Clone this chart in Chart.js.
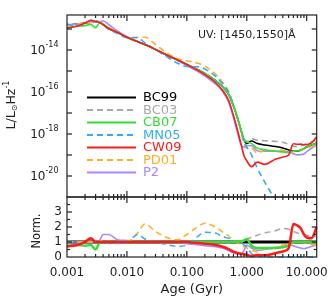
<!DOCTYPE html>
<html lang="en">
<head>
<meta charset="UTF-8" />
<title>UV [1450,1550] luminosity vs age</title>
<script src="https://cdn.jsdelivr.net/npm/chart.js"></script>
<style>
  body { margin: 0; background: #fff; }
  #wrap { position: relative; width: 333px; height: 303px; }
</style>
</head>
<body>
<div id="wrap"><canvas id="chart"></canvas></div>
<script>
// ages in Gyr, shared by every model
const ages = [0.001, 0.0015, 0.002, 0.0025, 0.003, 0.0035, 0.004, 0.005, 0.007, 0.01,
  0.015, 0.02, 0.03, 0.05, 0.07, 0.1, 0.15, 0.2, 0.3, 0.4,
  0.5, 0.6, 0.7, 0.8, 0.9, 1.0, 1.2, 1.5, 2, 3,
  4, 5, 6, 7, 8, 9, 10, 12, 14.7];

// L / Lsun Hz^-1
const lumBC99 = [1.55e-13, 1.73e-13, 1.93e-13, 2.08e-13, 2.28e-13, 2.04e-13, 1.64e-13, 1.06e-13, 6.81e-14, 4.03e-14,
  2.54e-14, 1.83e-14, 1.06e-14, 5.18e-15, 3.34e-15, 2.04e-15, 1.18e-15, 7.60e-16, 3.53e-16, 1.73e-16,
  7.60e-17, 2.15e-17, 5.78e-18, 1.55e-18, 5.18e-19, 3.53e-19, 4.64e-19, 3.53e-19, 2.99e-19, 2.54e-19,
  2.15e-19, 1.73e-19, 1.55e-19, 1.55e-19, 1.73e-19, 2.04e-19, 2.40e-19, 2.99e-19, 3.72e-19];
const lumBC03 = [1.55e-13, 1.73e-13, 1.93e-13, 2.08e-13, 2.28e-13, 2.04e-13, 1.64e-13, 1.06e-13, 6.81e-14, 4.03e-14,
  2.54e-14, 1.83e-14, 1.06e-14, 5.18e-15, 3.34e-15, 2.04e-15, 1.18e-15, 7.60e-16, 3.53e-16, 1.73e-16,
  7.60e-17, 2.15e-17, 5.78e-18, 1.55e-18, 5.18e-19, 4.24e-19, 6.03e-19, 5.12e-19, 4.78e-19, 4.45e-19,
  4.09e-19, 3.20e-19, 2.64e-19, 2.48e-19, 2.68e-19, 3.06e-19, 3.48e-19, 4.19e-19, 5.02e-19];
const lumCB07 = [1.16e-13, 1.38e-13, 1.45e-13, 1.66e-13, 1.14e-13, 1.94e-13, 1.64e-13, 1.06e-13, 6.81e-14, 4.03e-14,
  2.54e-14, 1.83e-14, 1.06e-14, 5.18e-15, 3.34e-15, 2.04e-15, 1.18e-15, 7.60e-16, 3.53e-16, 1.73e-16,
  7.60e-17, 2.15e-17, 6.07e-18, 1.63e-18, 5.70e-19, 4.24e-19, 3.48e-19, 2.12e-19, 1.79e-19, 1.52e-19,
  1.40e-19, 1.30e-19, 1.55e-19, 1.55e-19, 1.73e-19, 2.04e-19, 2.40e-19, 2.99e-19, 3.72e-19];
const lumMN05 = [1.71e-13, 1.47e-13, 1.93e-13, 2.50e-13, 2.51e-13, 2.04e-13, 1.56e-13, 9.54e-14, 6.13e-14, 3.83e-14,
  3.81e-14, 2.20e-14, 1.06e-14, 4.14e-15, 2.34e-15, 1.63e-15, 1.59e-15, 1.25e-15, 5.65e-16, 2.34e-16,
  9.50e-17, 2.37e-17, 6.07e-18, 1.55e-18, 4.14e-19, 2.40e-19, 1.00e-19, 2.40e-20, 5.10e-21, 7.20e-22,
  null, null, null, null, null, null, null, null, null];
const lumCW09 = [1.09e-13, 1.38e-13, 1.93e-13, 2.60e-13, 2.28e-13, 2.04e-13, 1.64e-13, 1.06e-13, 6.81e-14, 4.03e-14,
  2.54e-14, 1.83e-14, 1.06e-14, 5.18e-15, 3.34e-15, 2.04e-15, 1.10e-15, 6.69e-16, 2.82e-16, 1.18e-16,
  3.95e-17, 7.53e-18, 1.56e-18, 3.41e-19, 9.32e-20, 5.30e-20, 2.78e-20, 4.59e-20, 3.59e-20, 6.35e-20,
  7.96e-20, 1.00e-19, 3.41e-19, 3.26e-19, 3.29e-19, 3.06e-19, 3.12e-19, 3.74e-19, 7.44e-19];
const lumPD01 = [1.55e-13, 1.73e-13, 1.93e-13, 2.08e-13, 2.28e-13, 2.14e-13, 1.80e-13, 1.11e-13, 6.81e-14, 4.03e-14,
  4.06e-14, 4.03e-14, 1.80e-14, 6.48e-15, 3.84e-15, 3.06e-15, 2.36e-15, 1.71e-15, 7.06e-16, 2.85e-16,
  1.06e-16, 2.37e-17, 5.49e-18, 1.24e-18, 3.63e-19, 2.12e-19, 2.09e-19, 1.24e-19, 1.64e-19, 1.65e-19,
  1.72e-19, 1.47e-19, 1.47e-19, 1.55e-19, 1.73e-19, 1.94e-19, 2.16e-19, 2.54e-19, 2.98e-19];
const lumP2 = [1.55e-13, 1.73e-13, 1.93e-13, 2.08e-13, 2.28e-13, 2.24e-13, 2.46e-13, 1.59e-13, 7.83e-14, 4.43e-14,
  2.54e-14, 1.83e-14, 1.06e-14, 5.18e-15, 3.17e-15, 1.80e-15, 9.68e-16, 5.70e-16, 2.40e-16, 1.00e-16,
  3.19e-17, 6.02e-18, 1.16e-18, 3.10e-19, 2.33e-19, 2.82e-19, 2.78e-19, 1.59e-19, 1.50e-19, 1.52e-19,
  1.51e-19, 1.38e-19, 1.16e-19, 1.01e-19, 1.04e-19, 1.12e-19, 1.44e-19, 2.09e-19, 2.98e-19];

// normalised to BC99
const normBC99 = [1, 1, 1, 1, 1, 1, 1, 1, 1, 1, 1, 1, 1, 1, 1, 1, 1, 1, 1, 1,
  1, 1, 1, 1, 1, 1, 1, 1, 1, 1, 1, 1, 1, 1, 1, 1, 1, 1, 1];
const normBC03 = [1, 1, 1, 1, 1, 1, 1, 1, 1, 1, 1, 1, 1, 1, 1, 1, 1, 1, 1, 1,
  1, 1, 1, 1, 1, 1.2, 1.3, 1.45, 1.6, 1.75, 1.9, 1.85, 1.7, 1.6, 1.55, 1.5, 1.45, 1.4, 1.35];
const normCB07 = [0.75, 0.8, 0.75, 0.8, 0.5, 0.95, 1, 1, 1, 1, 1, 1, 1, 1, 1, 1, 1, 1, 1, 1,
  1, 1, 1.05, 1.05, 1.1, 1.2, 0.75, 0.6, 0.6, 0.6, 0.65, 0.75, 1, 1, 1, 1, 1, 1, 1];
const normMN05 = [1.1, 0.85, 1.0, 1.2, 1.1, 1.0, 0.95, 0.9, 0.9, 0.95, 1.5, 1.2, 1.0, 0.8, 0.7, 0.8, 1.35, 1.65, 1.6, 1.35,
  1.25, 1.1, 1.05, 1.0, 0.8, 0.68, 0.22, 0.07, 0.02, 0, 0, 0, 0, 0, 0, 0, 0, 0, 0];
const normCW09 = [0.7, 0.8, 1.0, 1.25, 1.0, 1, 1, 1, 1, 1, 1, 1, 1, 1, 1, 1, 0.93, 0.88, 0.8, 0.68,
  0.52, 0.35, 0.27, 0.22, 0.18, 0.15, 0.06, 0.13, 0.12, 0.25, 0.37, 0.58, 2.2, 2.1, 1.9, 1.5, 1.3, 1.25, 2.0];
const normPD01 = [1, 1, 1, 1, 1, 1.05, 1.1, 1.05, 1, 1, 1.6, 2.2, 1.7, 1.25, 1.15, 1.5, 2.0, 2.25, 2.0, 1.65,
  1.4, 1.1, 0.95, 0.8, 0.7, 0.6, 0.45, 0.35, 0.55, 0.65, 0.8, 0.85, 0.95, 1.0, 1.0, 0.95, 0.9, 0.85, 0.8];
const normP2 = [1, 1, 1, 1, 1, 1.1, 1.5, 1.5, 1.15, 1.1, 1, 1, 1, 1, 0.95, 0.88, 0.82, 0.75, 0.68, 0.58,
  0.42, 0.28, 0.2, 0.2, 0.45, 0.8, 0.6, 0.45, 0.5, 0.6, 0.7, 0.8, 0.75, 0.65, 0.6, 0.55, 0.6, 0.7, 0.8];

// axes
const xTicks = [0.001, 0.01, 0.1, 1, 10];
const xTickLabels = ["0.001", "0.010", "0.100", "1.000", "10.000"];
const lumTickExps = [-14, -16, -18, -20];
const normTicks = [0, 1, 2, 3];
const bandText = "UV: [1450,1550]\u00c5";

const fontFamily = "'DejaVu Sans', sans-serif";
const textColor = "#222";
Chart.defaults.font.family = fontFamily;

const models = [
  { name: "BC99", color: "#000000", dash: [], lum: lumBC99, norm: normBC99, order: 6, normWidth: 3 },
  { name: "BC03", color: "#a8a8a8", dash: [6, 4], lum: lumBC03, norm: normBC03, order: 5, normWidth: 1.5 },
  { name: "CB07", color: "#33dd33", dash: [], lum: lumCB07, norm: normCB07, order: 1, normWidth: 2.5 },
  { name: "MN05", color: "#33aaff", dash: [6, 4], lum: lumMN05, norm: normMN05, order: 2, normWidth: 1.5 },
  { name: "CW09", color: "#ff1a1a", dash: [], lum: lumCW09, norm: normCW09, order: 0, normWidth: 2.5 },
  { name: "PD01", color: "#ffb020", dash: [6, 4], lum: lumPD01, norm: normPD01, order: 3, normWidth: 1.5 },
  { name: "P2", color: "#aa88ff", dash: [], lum: lumP2, norm: normP2, order: 4, normWidth: 1.5 }
];

// clip is relative to each dataset's own y scale
const datasets = [];
models.forEach(m => {
  datasets.push({
    label: m.name,
    data: ages.map((a, i) => ({ x: a, y: m.lum[i] })),
    yAxisID: "yLum",
    borderColor: m.color,
    borderDash: m.dash,
    borderWidth: 1.6,
    pointRadius: 0,
    cubicInterpolationMode: "monotone",
    order: m.order,
    clip: { left: 1, right: 1, top: 1, bottom: 0 }
  });
  datasets.push({
    label: m.name + " norm",
    data: ages.map((a, i) => ({ x: a, y: m.norm[i] })),
    yAxisID: "yNorm",
    borderColor: m.color,
    borderDash: m.dash,
    borderWidth: m.normWidth,
    pointRadius: 0,
    cubicInterpolationMode: "monotone",
    order: m.order,
    clip: { left: 1, right: 1, top: 0, bottom: 2 }
  });
});

function drawRich(ctx, pieces, cx, cy, rotate) {
  ctx.save();
  ctx.translate(cx, cy);
  if (rotate) ctx.rotate(-Math.PI / 2);
  let total = 0;
  pieces.forEach(p => { ctx.font = p.size + "px " + fontFamily; p.w = ctx.measureText(p.text).width; total += p.w; });
  let x = -total / 2;
  ctx.textBaseline = "middle";
  ctx.textAlign = "left";
  pieces.forEach(p => {
    ctx.font = p.size + "px " + fontFamily;
    ctx.fillText(p.text, x, p.dy);
    x += p.w;
  });
  ctx.restore();
}

const panelDecor = {
  id: "panelDecor",
  afterDraw(chart) {
    const { ctx, chartArea: ca, scales } = chart;
    const x = scales.x, yL = scales.yLum, yN = scales.yNorm;
    const line = (x1, y1, x2, y2) => { ctx.beginPath(); ctx.moveTo(x1, y1); ctx.lineTo(x2, y2); ctx.stroke(); };
    ctx.save();
    ctx.strokeStyle = "#222";
    ctx.lineWidth = 1.2;

    [yL, yN].forEach(ys => {
      const t = ys.top, b = ys.bottom;
      ctx.strokeRect(ca.left, t, ca.right - ca.left, b - t);
      for (let d = -3; d <= 1; d++) {
        for (let k = 1; k <= 9; k++) {
          const v = k * Math.pow(10, d);
          if (v <= x.min || v >= x.max) continue;
          const px = x.getPixelForValue(v);
          const len = k === 1 ? 6 : 3;
          line(px, b, px, b - len);
          line(px, t, px, t + len);
        }
      }
    });

    // decade ticks on the luminosity panel
    for (let e = -21; e <= -13; e++) {
      const py = yL.getPixelForValue(Math.pow(10, e));
      if (py <= yL.top + 1 || py >= yL.bottom - 1) continue;
      line(ca.left, py, ca.left + 5, py);
      line(ca.right, py, ca.right - 5, py);
    }
    // ticks on the normalised panel
    for (let v = 0.5; v < 4; v += 0.5) {
      const py = yN.getPixelForValue(v);
      const len = Number.isInteger(v) ? 5 : 3;
      line(ca.left, py, ca.left + len, py);
      line(ca.right, py, ca.right - len, py);
    }

    ctx.fillStyle = textColor;
    // luminosity tick labels 10^-n
    lumTickExps.forEach(e => {
      const py = yL.getPixelForValue(Math.pow(10, e));
      ctx.font = "12px " + fontFamily;
      const wBase = ctx.measureText("10").width;
      ctx.font = "8px " + fontFamily;
      const sup = String(e);
      const wSup = ctx.measureText(sup).width;
      const right = ca.left - 8.5;
      ctx.textAlign = "left";
      ctx.textBaseline = "middle";
      ctx.font = "12px " + fontFamily;
      ctx.fillText("10", right - wSup - wBase, py + 1);
      ctx.font = "8px " + fontFamily;
      ctx.fillText(sup, right - wSup, py - 5);
    });

    // axis titles
    drawRich(ctx, [
      { text: "L/L", size: 12.5, dy: 0 },
      { text: "\u2299", size: 8, dy: 3 },
      { text: "Hz", size: 12.5, dy: 0 },
      { text: "-1", size: 8, dy: -5 }
    ], 12, 105, true);
    drawRich(ctx, [{ text: "Norm.", size: 11.5, dy: 0 }], 37.5, 231, true);

    // band label
    ctx.font = "11px " + fontFamily;
    ctx.textAlign = "left";
    ctx.textBaseline = "middle";
    ctx.fillText(bandText, 198, 35);

    // legend inside the top panel
    models.forEach((m, i) => {
      const ry = 97.5 + i * 12.5;
      ctx.strokeStyle = m.color;
      ctx.lineWidth = 1.8;
      ctx.setLineDash(m.dash);
      line(87, ry, 136, ry);
      ctx.setLineDash([]);
      ctx.fillStyle = m.color;
      ctx.font = "13px " + fontFamily;
      ctx.fillText(m.name, 143, ry + 0.5);
    });
    ctx.restore();
  }
};

new Chart(document.getElementById("chart"), {
  type: "line",
  data: { datasets: datasets },
  options: {
    responsive: true,
    maintainAspectRatio: false,
    animation: false,
    layout: { padding: { left: 0, top: 15, right: 16.3, bottom: 0 } },
    plugins: { legend: { display: false }, tooltip: { enabled: false } },
    scales: {
      x: {
        type: "logarithmic",
        min: 0.001,
        max: 14.7,
        grid: { display: false, drawTicks: false },
        border: { display: false },
        afterBuildTicks: s => { s.ticks = xTicks.map(v => ({ value: v })); },
        afterFit: s => { s.height = 46; s.paddingLeft = 0; s.paddingRight = 0; },
        ticks: {
          autoSkip: false,
          maxRotation: 0,
          padding: 9,
          color: textColor,
          font: { size: 12 },
          callback: v => xTickLabels[xTicks.indexOf(v)]
        },
        title: {
          display: true,
          text: "Age (Gyr)",
          color: textColor,
          font: { size: 13 },
          padding: { top: 0, bottom: 6 }
        }
      },
      yNorm: {
        type: "linear",
        position: "left",
        stack: "panels",
        stackWeight: 60,
        min: 0,
        max: 4,
        grid: { display: false, drawTicks: false },
        border: { display: false },
        afterBuildTicks: s => { s.ticks = normTicks.map(v => ({ value: v })); },
        afterFit: s => { s.width = 67; s.paddingTop = 0; s.paddingBottom = 0; },
        ticks: { autoSkip: false, padding: 5, color: textColor, font: { size: 12 } }
      },
      yLum: {
        type: "logarithmic",
        position: "left",
        stack: "panels",
        stackWeight: 182,
        min: 1e-21,
        max: 4.64e-13,
        grid: { display: false, drawTicks: false },
        border: { display: false },
        afterFit: s => { s.width = 67; s.paddingTop = 0; s.paddingBottom = 0; },
        ticks: { display: false }
      }
    }
  },
  plugins: [panelDecor]
});
</script>
</body>
</html>
